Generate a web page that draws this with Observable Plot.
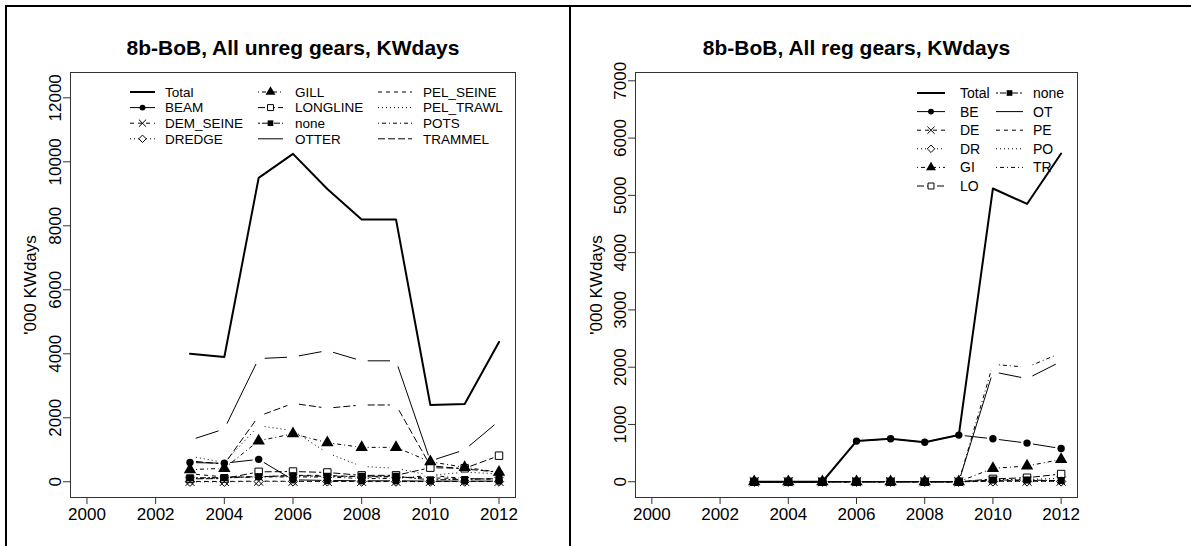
<!DOCTYPE html>
<html><head><meta charset="utf-8">
<script src="https://cdn.jsdelivr.net/npm/d3@7"></script>
<script src="https://cdn.jsdelivr.net/npm/@observablehq/plot@0.6"></script>
<style>
html,body{margin:0;padding:0;background:#fff}
body{width:1191px;height:546px;position:relative;overflow:hidden;font-family:"Liberation Sans",Arial,sans-serif}
.panel{position:absolute;top:0}
.bline{position:absolute;background:#000}
</style></head><body>
<div class="bline" style="left:5px;top:5px;width:1186px;height:2px"></div>
<div class="bline" style="left:5px;top:5px;width:2px;height:541px"></div>
<div class="bline" style="left:569px;top:5px;width:2px;height:541px"></div>
<div id="left" class="panel" style="left:0"></div>
<div id="right" class="panel" style="left:570px"></div>
<script>
// ---------- data ----------
const years = [2003, 2004, 2005, 2006, 2007, 2008, 2009, 2010, 2011, 2012];
const xTicks = [2000, 2002, 2004, 2006, 2008, 2010, 2012];
const xLim = [2000, 2012];

// Left panel: unregulated gears ('000 KWdays)
const unregTitle = "8b-BoB, All unreg gears, KWdays";
const unregNames = ["BEAM","DEM_SEINE","DREDGE","GILL","LONGLINE","none","OTTER","PEL_SEINE","PEL_TRAWL","POTS","TRAMMEL"];
const unregTotal     = [4000, 3900, 9500, 10250, 9150, 8200, 8200, 2400, 2430, 4370];
const unregBEAM      = [600, 580, 700, 60, 40, 30, 30, 20, 20, 20];
const unregDEM_SEINE = [10, 10, 20, 15, 10, 10, 10, 10, 10, 10];
const unregDREDGE    = [0, 0, 10, 10, 10, 5, 5, 5, 5, 5];
const unregGILL      = [380, 420, 1280, 1500, 1220, 1075, 1075, 625, 450, 300];
const unregLONGLINE  = [90, 100, 310, 320, 290, 200, 200, 440, 420, 815];
const unregNone      = [120, 130, 160, 190, 170, 170, 170, 60, 70, 100];
const unregOTTER     = [1300, 1650, 3850, 3900, 4100, 3780, 3780, 650, 1000, 1900];
const unregPEL_SEINE = [250, 150, 150, 200, 200, 150, 150, 120, 100, 80];
const unregPEL_TRAWL = [800, 600, 1750, 1600, 900, 480, 420, 200, 300, 250];
const unregPOTS      = [100, 120, 150, 150, 150, 100, 100, 200, 100, 80];
const unregTRAMMEL   = [650, 550, 2050, 2450, 2300, 2400, 2400, 500, 400, 300];
const unregYTicks = [0, 2000, 4000, 6000, 8000, 10000, 12000];
const unregYLim = [0, 12300];

// Right panel: regulated gears ('000 KWdays)
const regTitle = "8b-BoB, All reg gears, KWdays";
const regNames = ["BE","DE","DR","GI","LO","none","OT","PE","PO","TR"];
const regTotal = [0, 0, 0, 710, 750, 690, 815, 5120, 4850, 5730];
const regBE    = [0, 0, 0, 710, 750, 690, 815, 750, 675, 580];
const regDE    = [0, 0, 0, 0, 0, 0, 0, 10, 10, 10];
const regDR    = [0, 0, 0, 0, 0, 0, 0, 5, 5, 5];
const regGI    = [0, 0, 0, 0, 0, 0, 0, 235, 275, 390];
const regLO    = [0, 0, 0, 0, 0, 0, 0, 50, 70, 135];
const regNone  = [0, 0, 0, 0, 0, 0, 0, 30, 30, 20];
const regOT    = [0, 0, 0, 0, 0, 0, 0, 1920, 1800, 2100];
const regPE    = [0, 0, 0, 0, 0, 0, 0, 20, 20, 20];
const regPO    = [0, 0, 0, 0, 0, 0, 0, 40, 40, 60];
const regTR    = [0, 0, 0, 0, 0, 0, 0, 2050, 2000, 2250];
const regYTicks = [0, 1000, 2000, 3000, 4000, 5000, 6000, 7000];
const regYLim = [0, 6870];

const yLabel = "'000 KWdays";

// ---------- styles (R lty / pch cycle) ----------
const ltys = [null, "4,4", "1,3", "1,3,4,3", "7,3", "2,2,6,2"];
const pchs = [
  {symbol: "circle", fill: "black", stroke: "none", r: 3.7},
  {symbol: "times", fill: "none", stroke: "black", r: 4.2},
  {symbol: "diamond2", fill: "none", stroke: "black", r: 4.2},
  {symbol: "triangle", fill: "black", stroke: "none", r: 4.6},
  {symbol: "square", fill: "none", stroke: "black", r: 4.2},
  {symbol: "square", fill: "black", stroke: "none", r: 4.0}
];
function styleOf(i) { return {lty: ltys[i % 6], pch: i < 6 ? pchs[i] : null}; }

function extend(lim) { const d = (lim[1] - lim[0]) * 0.04; return [lim[0] - d, lim[1] + d]; }

const d3Sym = {circle: d3.symbolCircle, times: d3.symbolTimes, diamond2: d3.symbolDiamond2, triangle: d3.symbolTriangle, square: d3.symbolSquare};

function makePanel(opt) {
  const marks = [];
  marks.push(Plot.frame({stroke: "#333", strokeWidth: 1}));
  marks.push(Plot.axisX({ticks: xTicks, tickSize: 7, stroke: "#333", fontSize: 17, tickFormat: d => String(d), label: null}));
  marks.push(Plot.axisY({ticks: opt.yTicks, tickSize: 7, tickRotate: -90, stroke: "#333", fontSize: 17, tickFormat: d => String(d),
    label: yLabel, labelAnchor: "center", labelOffset: opt.labelOffset, labelArrow: "none"}));
  marks.push(Plot.text([opt.title], {frameAnchor: "top", dy: -24, fontWeight: "bold", fontSize: 21, lineAnchor: "middle", fill: "black"}));
  // Total
  const totRows = years.map((y, i) => ({year: y, v: opt.total[i]}));
  marks.push(Plot.line(totRows, {x: "year", y: "v", stroke: "black", strokeWidth: 2}));
  // gears: R type "b" -> segments with gaps around points
  opt.series.forEach((vals, i) => {
    const st = styleOf(i);
    const pts = years.map((y, j) => ({year: y, v: vals[j]}));
    const segs = d3.pairs(pts).map(([a, b]) => ({x1: a.year, y1: a.v, x2: b.year, y2: b.v}));
    marks.push(Plot.arrow(segs, {x1: "x1", y1: "y1", x2: "x2", y2: "y2", bend: 0, headLength: 0,
      insetStart: 6, insetEnd: 6, stroke: "black", strokeWidth: 1, strokeDasharray: st.lty || undefined, strokeLinecap: "butt"}));
  });
  opt.series.forEach((vals, i) => {
    const st = styleOf(i);
    if (!st.pch) return;
    const pts = years.map((y, j) => ({year: y, v: vals[j]}));
    marks.push(Plot.dot(pts, {x: "year", y: "v", symbol: st.pch.symbol, r: st.pch.r, fill: st.pch.fill, stroke: st.pch.stroke, strokeWidth: 1}));
  });
  const svg = Plot.plot({
    width: opt.width, height: 546,
    marginLeft: opt.ml, marginRight: opt.mr, marginTop: 72, marginBottom: 49,
    x: {domain: extend(xLim)},
    y: {domain: extend(opt.yLim)},
    style: {fontFamily: "'Liberation Sans', Arial, sans-serif", fontSize: "17px", color: "black", background: "transparent", overflow: "visible"},
    marks
  });
  // legend (inside plot region, R-style, no box)
  const g = d3.select(svg).append("g").attr("font-family", "'Liberation Sans', Arial, sans-serif")
    .attr("font-size", opt.legend.fontSize).attr("text-anchor", "start");
  const items = [{name: "Total", lty: null, lwd: 2, pch: null}].concat(opt.names.map((n, i) => ({name: n, lty: styleOf(i).lty, lwd: 1, pch: styleOf(i).pch})));
  items.forEach((it, k) => {
    const col = Math.floor(k / opt.legend.perCol), row = k % opt.legend.perCol;
    const c = opt.legend.cols[col];
    const y = opt.legend.y0 + row * opt.legend.dy;
    g.append("line").attr("x1", c.x0).attr("x2", c.x1).attr("y1", y).attr("y2", y)
      .attr("stroke", "black").attr("stroke-width", it.lwd).attr("stroke-dasharray", it.lty || null);
    if (it.pch) {
      const sz = Math.PI * Math.pow(it.pch.r * 0.8, 2);
      g.append("path").attr("d", d3.symbol(d3Sym[it.pch.symbol], sz)())
        .attr("transform", `translate(${(c.x0 + c.x1) / 2},${y})`)
        .attr("fill", it.pch.fill === "none" ? "white" : it.pch.fill).attr("stroke", it.pch.stroke === "none" ? "none" : "black");
    }
    g.append("text").attr("x", c.tx).attr("y", y).attr("dy", "0.35em").attr("fill", "black").attr("text-anchor", "start").text(it.name);
  });
  return svg;
}

document.getElementById("left").appendChild(makePanel({
  width: 570, ml: 70, mr: 55, title: unregTitle, total: unregTotal, names: unregNames,
  series: [unregBEAM, unregDEM_SEINE, unregDREDGE, unregGILL, unregLONGLINE, unregNone, unregOTTER, unregPEL_SEINE, unregPEL_TRAWL, unregPOTS, unregTRAMMEL],
  yTicks: unregYTicks, yLim: unregYLim, labelOffset: 47,
  legend: {fontSize: 13.5, perCol: 4, y0: 92, dy: 15.6, cols: [{x0: 130, x1: 155, tx: 165}, {x0: 258, x1: 283, tx: 295}, {x0: 378, x1: 412, tx: 423}]}
}));
document.getElementById("right").appendChild(makePanel({
  width: 621, ml: 65, mr: 114, title: regTitle, total: regTotal, names: regNames,
  series: [regBE, regDE, regDR, regGI, regLO, regNone, regOT, regPE, regPO, regTR],
  yTicks: regYTicks, yLim: regYLim, labelOffset: 46,
  legend: {fontSize: 14, perCol: 6, y0: 93, dy: 18.6, cols: [{x0: 347, x1: 375, tx: 390}, {x0: 426, x1: 453, tx: 463}]}
}));
</script>
</body></html>
